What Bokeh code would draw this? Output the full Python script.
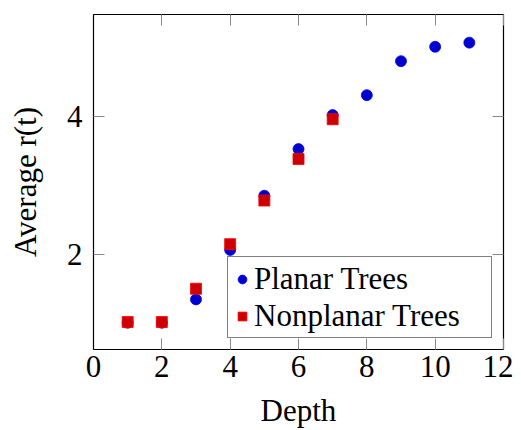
from bokeh.plotting import figure
from bokeh.models import LinearAxis, Range1d, FixedTicker, Legend, LegendItem, CustomJSTickFormatter
from bokeh.embed import file_html
from bokeh.resources import INLINE

depth_planar = [1, 2, 3, 4, 5, 6, 7, 8, 9, 10, 11]
r_planar = [1.0, 1.0, 1.34, 2.06, 2.85, 3.53, 4.025, 4.315, 4.81, 5.02, 5.08]
depth_nonplanar = [1, 2, 3, 4, 5, 6, 7]
r_nonplanar = [1.01, 1.01, 1.495, 2.145, 2.78, 3.385, 3.965]
x_ticks = [0, 2, 4, 6, 8, 10, 12]
y_ticks = [2, 4]

FONT = "Liberation Serif"
FS = "31px"

p = figure(width=513, height=430, output_backend="svg", toolbar_location=None,
           x_range=Range1d(0, 12), y_range=Range1d(0.61, 5.49),
           min_border_left=93, min_border_right=10, min_border_top=14, min_border_bottom=10)
p.grid.visible = False
p.outline_line_color = "black"
p.outline_line_width = 1.2
p.background_fill_color = "white"
p.border_fill_color = "white"

for ax, ticks in ((p.xaxis[0], x_ticks), (p.yaxis[0], y_ticks)):
    ax.ticker = FixedTicker(ticks=ticks)
    ax.major_tick_in = 11
    ax.major_tick_out = 0
    ax.minor_tick_line_color = None
    ax.major_tick_line_color = "#888888"
    ax.axis_line_color = "black"
    ax.major_label_text_font = FONT
    ax.major_label_text_font_size = FS
    ax.major_label_text_color = "black"
    ax.axis_label_text_font = FONT
    ax.axis_label_text_font_size = FS
    ax.axis_label_text_font_style = "normal"
    ax.axis_label_text_color = "black"

p.xaxis[0].axis_label = "Depth"
p.xaxis[0].major_label_standoff = 6
p.xaxis[0].axis_label_standoff = 13
p.yaxis[0].axis_label = "Average r(t)"
p.yaxis[0].major_label_standoff = 11
p.yaxis[0].axis_label_standoff = 21

blank = CustomJSTickFormatter(code="return ''")
top = LinearAxis(ticker=FixedTicker(ticks=x_ticks), formatter=blank,
                 major_tick_in=11, major_tick_out=0, minor_tick_line_color=None,
                 major_tick_line_color="#888888", axis_line_color=None,
                 major_label_standoff=0, major_label_text_font_size="1px")
right = LinearAxis(ticker=FixedTicker(ticks=y_ticks), formatter=blank,
                   major_tick_in=11, major_tick_out=0, minor_tick_line_color=None,
                   major_tick_line_color="#888888", axis_line_color=None,
                   major_label_standoff=0, major_label_text_font_size="1px")
p.add_layout(top, "above")
p.add_layout(right, "right")

c = p.scatter(depth_planar, r_planar, marker="circle", size=11,
              fill_color="#0000cc", line_color="#0000ff", line_width=0.8)
s = p.scatter(depth_nonplanar, r_nonplanar, marker="square", size=11,
              fill_color="#cc0000", line_color="#ff0000", line_width=0.8)

legend = Legend(items=[LegendItem(label="Planar Trees", renderers=[c]),
                       LegendItem(label="Nonplanar Trees", renderers=[s])],
                location="bottom_right")
legend.label_text_font = FONT
legend.label_text_font_size = FS
legend.label_text_color = "black"
legend.border_line_color = "black"
legend.border_line_width = 1.2
legend.background_fill_alpha = 1
legend.margin = 11
legend.padding = 3
legend.spacing = 0
legend.glyph_width = 22
legend.glyph_height = 22
legend.label_standoff = 1
legend.label_height = 37
legend.label_width = 234
p.add_layout(legend)

open("out.html", "w").write(file_html(p, INLINE))
